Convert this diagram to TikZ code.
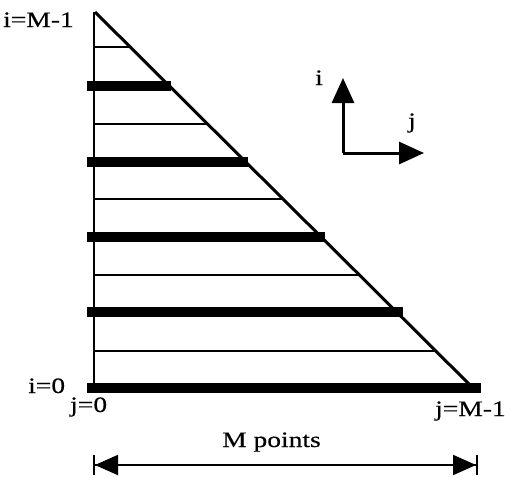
\documentclass[tikz,border=0pt]{standalone}
\usepackage{fontspec}
\setmainfont{Liberation Serif}[FakeStretch=1.25,FakeBold=0.4]
\usetikzlibrary{arrows.meta}
\begin{document}
\begin{tikzpicture}[x=1pt,y=-1pt,
  lbl/.style={inner sep=0pt, anchor=base west, font=\fontsize{22}{26}\selectfont},
  thickrow/.style={line width=9.5pt, line cap=butt},
  thinrow/.style={line width=2pt, line cap=butt},
  edge/.style={line width=3pt, line join=miter},
  axisarrow/.style={line width=3pt, -{Triangle[length=25pt,width=22pt]}},
  span/.style={line width=2pt, {Bar[width=20pt,line width=2pt]Triangle[length=23pt,width=20pt]}-{Triangle[length=23pt,width=20pt]Bar[width=20pt,line width=2pt]}}
]
\useasboundingbox (0,0) rectangle (505,477);
% thin rows
\foreach \y [count=\k] in {47,124,199,275,351} {
  \coordinate (sl\k) at (94,\y);
  \coordinate (sr\k) at ({95+\y-12},\y);
  \draw[thinrow] (sl\k) -- (sr\k);
}
% thick rows
\foreach \y/\xe [count=\k] in {86/171,162/248,237/325,312/403,388/481} {
  \coordinate (tl\k) at (87,\y);
  \coordinate (tr\k) at (\xe,\y);
  \draw[thickrow] (tl\k) -- (tr\k);
}
% triangle edges
\coordinate (top) at (94,12);
\coordinate (apex) at (95,12);
\coordinate (base) at (94,388);
\coordinate (corner) at (473,388);
\draw[line width=2.5pt] (top) -- (base);
\draw[edge] (apex) -- (corner);
% axes
\coordinate (O) at (343,153);
\coordinate (Iup) at (343,78);
\coordinate (Jr) at (424,153);
\draw[axisarrow] (O) -- (Iup);
\draw[axisarrow] (O) -- (Jr);
\node[lbl] (ilab) at (315,85) {i};
\node[lbl] (jlab) at (408,128) {j};
% labels
\node[lbl] (iM) at (3,27) {i=M-1};
\node[lbl] (i0) at (28,393) {i=0};
\node[lbl] (j0) at (70,412) {j=0};
\node[lbl] (jM) at (435,416) {j=M-1};
\node[lbl] (Mp) at (222,447) {M points};
% span arrow
\coordinate (L) at (93,465);
\coordinate (R) at (478,465);
\draw[span] (L) -- (R);
\end{tikzpicture}
\end{document}
